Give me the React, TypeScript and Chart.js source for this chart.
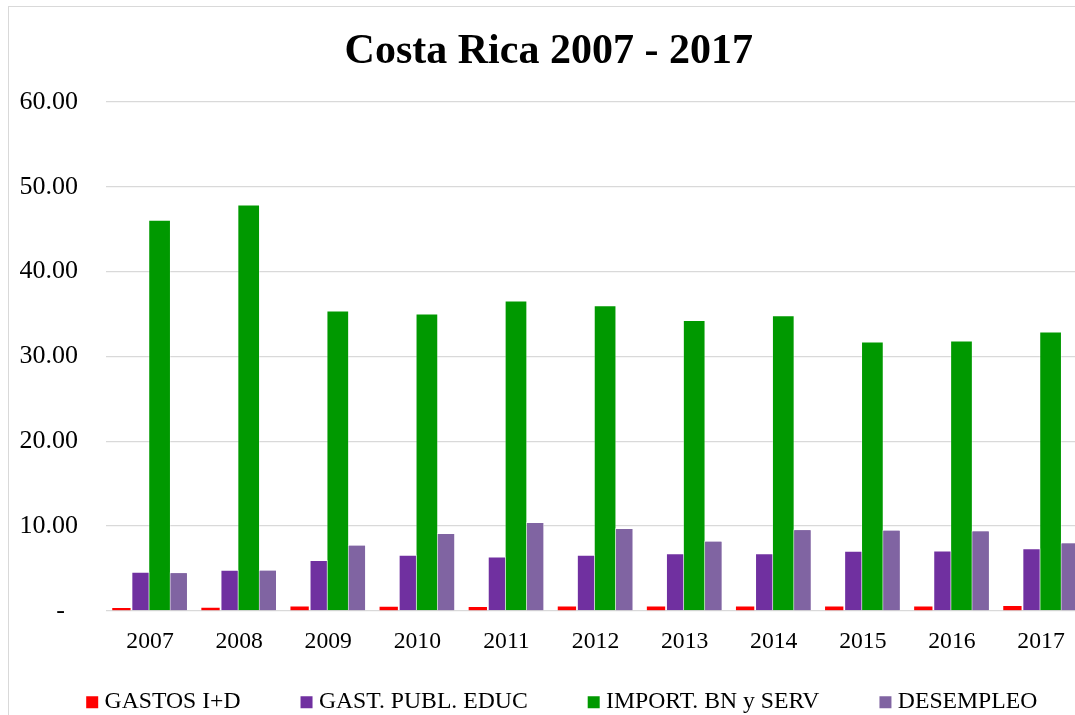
import React, { useEffect, useRef } from 'react';
import { Chart, registerables } from 'chart.js';

Chart.register(...registerables);

const years = ['2007', '2008', '2009', '2010', '2011', '2012', '2013', '2014', '2015', '2016', '2017'];
const gastosID = [0.32, 0.36, 0.5, 0.48, 0.46, 0.52, 0.52, 0.52, 0.52, 0.52, 0.58];
const gastPublEduc = [4.6, 4.83, 5.98, 6.6, 6.4, 6.6, 6.8, 6.8, 7.07, 7.11, 7.39];
const importBnServ = [46.1, 47.9, 35.4, 35.06, 36.6, 36.04, 34.3, 34.86, 31.76, 31.88, 32.94];
const desempleo = [4.56, 4.83, 7.78, 9.16, 10.46, 9.75, 8.25, 9.63, 9.55, 9.47, 8.05];
const seriesNames = ['GASTOS I+D', 'GAST. PUBL. EDUC', 'IMPORT. BN y SERV', 'DESEMPLEO'];
const chartTitle = 'Costa Rica 2007 - 2017';

const FONT = "'Liberation Serif', 'Times New Roman', serif";

const redrawLast = {
  id: 'redrawLast',
  afterDatasetsDraw(chart: any) {
    const meta = chart.getDatasetMeta(3);
    if (!meta || meta.hidden) return;
    const ctx = chart.ctx;
    ctx.save();
    meta.data.forEach((el: any) => el.draw(ctx, chart.chartArea));
    ctx.restore();
  },
};

export default function App() {
  const ref = useRef<HTMLCanvasElement>(null);
  useEffect(() => {
    if (!ref.current) return;
    const chart = new Chart(ref.current, {
      type: 'bar',
      data: {
        labels: years,
        datasets: [
          { label: seriesNames[0], data: gastosID, backgroundColor: '#FF0000', borderWidth: 0, barPercentage: 0.96, categoryPercentage: 0.857 },
          { label: seriesNames[1], data: gastPublEduc, backgroundColor: '#7030A0', borderColor: 'rgba(255,255,255,0.35)', borderWidth: 1, barPercentage: 0.96, categoryPercentage: 0.857 },
          { label: seriesNames[2], data: importBnServ, backgroundColor: '#009900', borderColor: 'rgba(255,255,255,0.35)', borderWidth: 1, barPercentage: 1.19, categoryPercentage: 0.857 },
          { label: seriesNames[3], data: desempleo, backgroundColor: '#8064A2', borderColor: 'rgba(255,255,255,0.4)', borderWidth: 1, barPercentage: 0.96, categoryPercentage: 0.857 },
        ],
      },
      plugins: [redrawLast],
      options: {
        animation: false,
        responsive: true,
        maintainAspectRatio: false,
        layout: { padding: { left: 0, right: 0, top: 10, bottom: 13 } },
        plugins: {
          title: {
            display: true,
            text: chartTitle + '   ',
            color: '#000',
            font: { family: FONT, size: 42, weight: 'bold' },
            padding: { top: 10.3, bottom: 24.3 },
          },
          legend: {
            position: 'bottom',
            align: 'center',
            labels: {
              color: '#000',
              font: { family: FONT, size: 23.7 },
              usePointStyle: true,
              pointStyle: 'rect',
              boxWidth: 1,
              boxHeight: 12,
              padding: 65.5,
              generateLabels: (c: any) =>
                Chart.defaults.plugins.legend.labels.generateLabels(c).map((l: any) => ({ ...l, lineWidth: 0, pointStyle: 'rect' })),
            },
          },
          tooltip: { enabled: false },
        },
        scales: {
          x: {
            grid: { display: false },
            border: { display: false },
            ticks: { color: '#000', font: { family: FONT, size: 23.7 }, padding: -45.2, mirror: true, maxRotation: 0, autoSkip: false },
            afterFit: (s: any) => { s.height = 14; },
          },
          y: {
            min: 0,
            max: 60,
            ticks: {
              stepSize: 10,
              color: '#000',
              font: { family: FONT, size: 26 },
              padding: 27.5,
              callback: (v: any) => (Number(v) === 0 ? '-  ' : Number(v).toFixed(2)),
            },
            grid: { color: '#d9d9d9', lineWidth: 1.3, drawTicks: false },
            border: { display: false },
            afterFit: (s: any) => { s.width = 96.5; },
          },
          yR: {
            position: 'right',
            display: true,
            grid: { display: false },
            border: { display: false },
            ticks: { display: false },
            afterFit: (s: any) => { s.width = 34.4; },
          },
        },
      } as any,
    });
    return () => chart.destroy();
  }, []);

  return (
    <div style={{ position: 'fixed', left: 0, top: 0, width: 1075, height: 715, overflow: 'hidden', background: '#fff' }}>
      <div style={{ position: 'absolute', left: 8, top: 6, width: 1113, height: 760, border: '1px solid #d9d9d9', boxSizing: 'border-box' }}>
        <div style={{ position: 'absolute', left: 0, top: 0, width: 1111, height: 730 }}>
          <canvas ref={ref} />
        </div>
      </div>
    </div>
  );
}
